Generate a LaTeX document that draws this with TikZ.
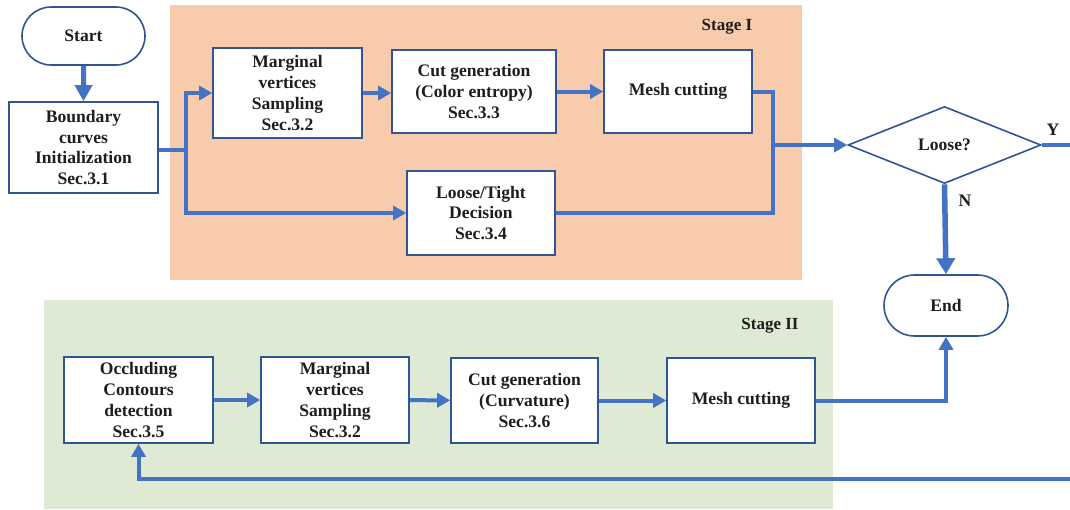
\documentclass[tikz,border=0pt]{standalone}
\usepackage{fontspec}
\setmainfont{Liberation Serif}
\usetikzlibrary{shapes.misc,shapes.geometric,arrows.meta}
\definecolor{boxblue}{HTML}{2F5597}
\definecolor{arrblue}{HTML}{4472C4}
\definecolor{peach}{HTML}{F7CBAC}
\definecolor{lgreen}{HTML}{DEEAD3}
\definecolor{txt}{HTML}{1E1E1E}
\tikzset{
  every node/.style={font=\fontsize{17.6}{20.7}\selectfont\bfseries, text=txt},
  procbox/.style={draw=boxblue, line width=1.6pt, fill=white, align=center, inner sep=0pt},
  termbox/.style={rounded rectangle, draw=boxblue, line width=1.6pt, fill=white, minimum width=123pt, minimum height=58pt, inner sep=0pt},
  decbox/.style={diamond, draw=boxblue, line width=1.6pt, fill=white, minimum width=193pt, minimum height=77pt, aspect=2.5, inner sep=0pt},
  flow/.style={draw=arrblue, line width=4pt, -{Triangle[length=13pt,width=14pt]}},
  flowline/.style={draw=arrblue, line width=4pt},
  stagelabel/.style={font=\fontsize{17}{20}\selectfont\bfseries}
}
\begin{document}
\begin{tikzpicture}[x=1pt,y=-1pt]
\useasboundingbox (0,0) rectangle (1070,509);
\clip (0,0) rectangle (1070,509);
% stage backgrounds
\fill[peach] (170,5) rectangle (802,280);
\fill[lgreen] (44,300) rectangle (833,509);
\node[stagelabel] (s1) at (727,27) {Stage I};
\node[stagelabel] (s2) at (770,326) {Stage II};
% nodes
\node[termbox] (start) at (83.5,36) {Start};
\node[procbox, minimum width=149pt, minimum height=91pt] (bound) at (83.5,147.5) {Boundary\\curves\\Initialization\\Sec.3.1};
\node[procbox, minimum width=149pt, minimum height=90pt] (marg1) at (287.5,93) {Marginal\\vertices\\Sampling\\Sec.3.2};
\node[procbox, minimum width=164pt, minimum height=83pt] (cut1) at (474,91.5) {Cut generation\\(Color entropy)\\Sec.3.3};
\node[procbox, minimum width=148pt, minimum height=83pt] (mesh1) at (678,91.5) {Mesh cutting};
\node[procbox, minimum width=148pt, minimum height=84pt] (loose) at (481,213) {Loose/Tight\\Decision\\Sec.3.4};
\node[decbox] (dec) at (944.5,145) {Loose?};
\node[termbox, minimum width=124pt, minimum height=61pt] (end) at (946,305.5) {End};
\node[procbox, minimum width=149pt, minimum height=86pt] (occ) at (138.5,400) {Occluding\\Contours\\detection\\Sec.3.5};
\node[procbox, minimum width=148pt, minimum height=86pt] (marg2) at (335,400) {Marginal\\vertices\\Sampling\\Sec.3.2};
\node[procbox, minimum width=147pt, minimum height=85pt] (cut2) at (524.5,400.5) {Cut generation\\(Curvature)\\Sec.3.6};
\node[procbox, minimum width=148pt, minimum height=85pt] (mesh2) at (741,400.5) {Mesh cutting};
% junction coordinates
\coordinate (j1) at (186,150);
\coordinate (j2) at (773,145);
\coordinate (far) at (1090,145);
\coordinate (farlow) at (1090,479);
% connectors
\draw[flow, line width=5pt, -{Triangle[length=16pt,width=17pt]}] (start) -- (bound);
\draw[flowline] (bound.east |- j1) -- (j1);
\draw[flow] (j1) |- (marg1.west);
\draw[flow] (j1) |- (loose.west);
\draw[flow] (marg1.east) -- (cut1.west |- marg1.east);
\draw[flow] (cut1) -- (mesh1);
\draw[flowline] (mesh1.east) -| (j2);
\draw[flowline] (loose.east) -| (j2);
\draw[flow] (j2) -- (dec.west);
\draw[flow, line width=5.5pt, -{Triangle[length=16pt,width=18pt]}] (dec.south) -- (end.north);
\node (ylab) at (1053,130) {Y};
\node (nlab) at (965,201) {N};
\draw[flow] (dec.east) -- (far) -- (farlow) -| (occ.south);
\draw[flow] (occ) -- (marg2);
\draw[flow] (marg2) -- (cut2);
\draw[flow] (cut2) -- (mesh2);
\draw[flow] (mesh2.east) -| (end.south);
\end{tikzpicture}
\end{document}
